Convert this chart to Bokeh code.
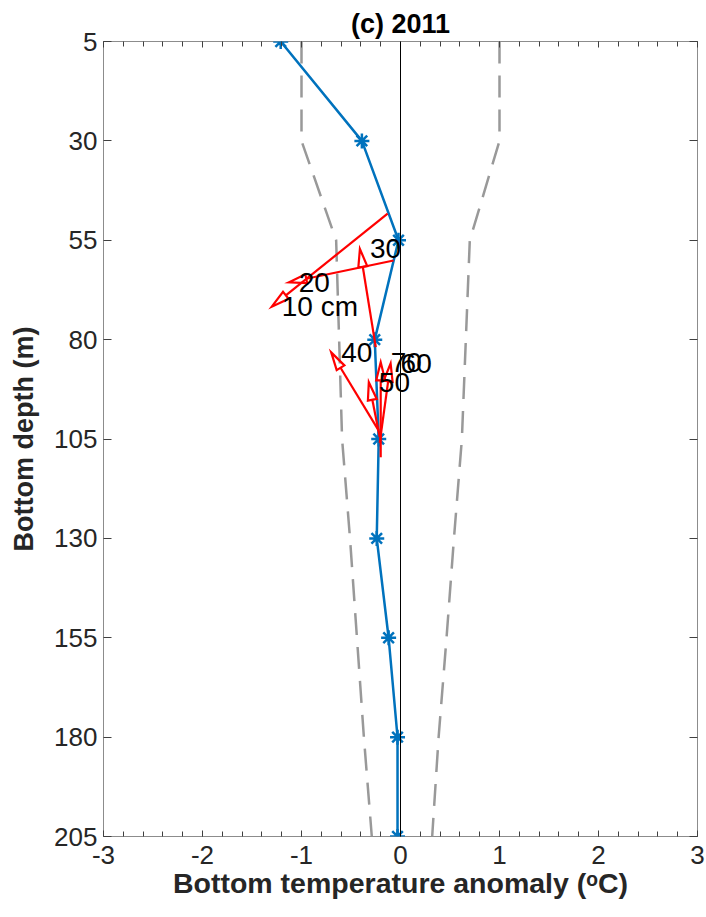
import numpy as np
from bokeh.plotting import figure
from bokeh.models import Range1d, FixedTicker, LinearAxis, Span
from bokeh.core.properties import value
from bokeh.embed import file_html
from bokeh.resources import INLINE

# ---------------- data ----------------
depth = [5, 30, 55, 80, 105, 130, 155, 180, 205]
anomaly = [-1.21, -0.39, -0.02, -0.26, -0.22, -0.24, -0.12, -0.03, -0.03]
lower_bound = [-1.0, -1.0, -0.65, -0.62, -0.59, -0.51, -0.44, -0.37, -0.29]
upper_bound = [1.0, 1.0, 0.70, 0.66, 0.62, 0.54, 0.465, 0.385, 0.32]

arrow_labels = ["10 cm", "20", "30", "40", "50", "60", "70"]
arrow_x0 = [-0.13, -0.07, -0.25, -0.22, -0.21, -0.21, -0.20]
arrow_y0 = [48.3, 60.1, 81.9, 102.9, 104.5, 106.0, 109.6]
arrow_x1 = [-1.30, -1.13, -0.41, -0.70, -0.32, -0.10, -0.20]
arrow_y1 = [71.7, 65.6, 57.2, 83.2, 90.7, 86.0, 85.7]

x_ticks = [-3, -2, -1, 0, 1, 2, 3]
x_minor = [round(v, 1) for v in np.arange(-3, 3.001, 0.2)]
y_ticks = [5, 30, 55, 80, 105, 130, 155, 180, 205]

title_text = "(c) 2011"
xlabel_text = "Bottom temperature anomaly (\u1d52C)"
ylabel_text = "Bottom depth (m)"

# ---------------- layout ----------------
FW, FH = 594, 795
XMIN, XMAX = -3, 3
YTOP, YBOT = 5, 205
FONT = "Liberation Sans"
TXT = "#262626"

p = figure(x_range=Range1d(XMIN, XMAX), y_range=Range1d(YBOT, YTOP),
           frame_width=FW, frame_height=FH,
           min_border_left=103, min_border_right=9,
           min_border_top=41, min_border_bottom=80,
           x_axis_location=None, y_axis_location=None,
           output_backend="svg", toolbar_location=None)
p.background_fill_color = "white"
p.border_fill_color = "white"
p.outline_line_color = "#8c8c8c"
p.outline_line_width = 1
p.xgrid.visible = False
p.ygrid.visible = False

p.title.text = title_text
p.title.align = "center"
p.title.text_font = FONT
p.title.text_font_size = "27px"
p.title.text_font_style = "bold"
p.title.text_color = "black"
p.title.standoff = 6


def style_axis(ax, is_x, show_labels):
    ax.axis_line_color = None
    ax.major_tick_out = 0
    ax.minor_tick_out = 0
    ax.major_tick_in = 6 if is_x else 8
    ax.minor_tick_in = 5 if is_x else 0
    ax.major_tick_line_color = "#404040"
    ax.minor_tick_line_color = "#404040" if is_x else None
    ax.major_label_text_font = FONT
    ticks = x_ticks if is_x else y_ticks
    if show_labels:
        ax.major_label_text_font_size = "26px"
        ax.major_label_text_color = TXT
        ax.major_label_overrides = {t: str(t) for t in ticks}
        ax.major_label_standoff = 9 if is_x else 6
        ax.axis_label_text_font = FONT
        ax.axis_label_text_font_style = "bold"
        ax.axis_label_text_color = TXT
    else:
        ax.major_label_text_font_size = "1px"
        ax.major_label_text_color = None
        ax.major_label_overrides = {t: "" for t in ticks}
        ax.major_label_standoff = 0


xb = LinearAxis(ticker=FixedTicker(ticks=x_ticks, minor_ticks=x_minor))
style_axis(xb, True, True)
xb.axis_label = xlabel_text
xb.axis_label_text_font_size = "28.5px"
xb.axis_label_standoff = 0
p.add_layout(xb, "below")

xa = LinearAxis(ticker=FixedTicker(ticks=x_ticks, minor_ticks=x_minor))
style_axis(xa, True, False)
p.add_layout(xa, "above")

yl = LinearAxis(ticker=FixedTicker(ticks=y_ticks, minor_ticks=[]))
style_axis(yl, False, True)
yl.axis_label = ylabel_text
yl.axis_label_text_font_size = "27px"
yl.axis_label_standoff = 12
p.add_layout(yl, "left")

yr = LinearAxis(ticker=FixedTicker(ticks=y_ticks, minor_ticks=[]))
style_axis(yr, False, False)
p.add_layout(yr, "right")

# zero line
p.add_layout(Span(location=0, dimension="height", line_color="black", line_width=1))

# dashed envelope
p.line(lower_bound, depth, line_color="#999999", line_width=2.5, line_dash="22 12")
p.line(upper_bound, depth, line_color="#999999", line_width=2.5, line_dash="22 12")

# profile
p.line(anomaly, depth, line_color="#0072BD", line_width=2.5)
p.scatter(anomaly, depth, marker="asterisk", size=15, line_color="#0072BD", line_width=2.5)

# arrows (quiver-like)
sx = FW / (XMAX - XMIN)
sy = FH / (YBOT - YTOP)
HL, HW = 18.0, 4.5
shaft_xs, shaft_ys, head_xs, head_ys = [], [], [], []
for x0, y0, x1, y1 in zip(arrow_x0, arrow_y0, arrow_x1, arrow_y1):
    dx, dy = (x1 - x0) * sx, (y1 - y0) * sy
    L = float(np.hypot(dx, dy))
    ux, uy = dx / L, dy / L
    bx, by = -ux * HL, -uy * HL
    nx, ny = -uy * HW, ux * HW
    head_xs.append([x1, x1 + (bx + nx) / sx, x1 + (bx - nx) / sx])
    head_ys.append([y1, y1 + (by + ny) / sy, y1 + (by - ny) / sy])
    shaft_xs.append([x0, x1 + bx / sx])
    shaft_ys.append([y0, y1 + by / sy])

p.multi_line(shaft_xs, shaft_ys, line_color="red", line_width=2.2)
p.patches(head_xs, head_ys, fill_color=None, line_color="red", line_width=2.2,
          line_join="miter")

p.text(x=arrow_x1, y=arrow_y1, text=arrow_labels, x_offset=10,
       text_align="left", text_baseline="middle",
       text_font=value(FONT), text_font_size=value("28px"), text_color="black")

open("out.html", "w").write(file_html(p, INLINE))
